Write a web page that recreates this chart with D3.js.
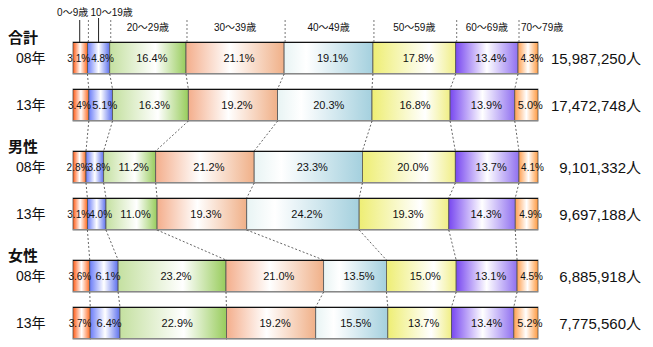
<!DOCTYPE html>
<html><head><meta charset="utf-8">
<script src="https://cdn.jsdelivr.net/npm/d3@7"></script>
<style>
html,body{margin:0;padding:0;background:#fff;}
svg text{font-family:"Liberation Sans","Noto Sans CJK JP",sans-serif;}
</style>
</head><body>
<svg id="c" width="653" height="347"></svg>
<script>
const ageGroups = ["0～9歳","10～19歳","20～29歳","30～39歳","40～49歳","50～59歳","60～69歳","70～79歳"];
const groups = ["合計","男性","女性"];
const years = ["08年","13年"];
const total08 = [3.1,4.8,16.4,21.1,19.1,17.8,13.4,4.3];
const total13 = [3.4,5.1,16.3,19.2,20.3,16.8,13.9,5.0];
const male08 = [2.8,3.8,11.2,21.2,23.3,20.0,13.7,4.1];
const male13 = [3.1,4.0,11.0,19.3,24.2,19.3,14.3,4.9];
const female08 = [3.6,6.1,23.2,21.0,13.5,15.0,13.1,4.5];
const female13 = [3.7,6.4,22.9,19.2,15.5,13.7,13.4,5.2];
const populations = ["15,987,250人","17,472,748人","9,101,332人","9,697,188人","6,885,918人","7,775,560人"];

const rows = [
  {g:0,y:0,vals:total08},{g:0,y:1,vals:total13},
  {g:1,y:0,vals:male08},{g:1,y:1,vals:male13},
  {g:2,y:0,vals:female08},{g:2,y:1,vals:female13}
];
rows.forEach((r,i)=>r.pop=populations[i]);

const svg = d3.select("#c");
const X0 = 73, X1 = 538, BH = 32;
const rowTop = r => 42 + r.g*109 + r.y*47;

// gradients
const colors = [
  {l:"#ff5a14", r:"#ff6a20", w:0.5},
  {l:"#6a7cf8", r:"#5c70ee", w:0.5},
  {l:"#c4e0a0", r:"#98cc5c", w:0.6},
  {l:"#f4ae8c", r:"#f0b088", w:0.45},
  {l:"#e8f4f4", r:"#a4d0de", w:0.25},
  {l:"#eeee74", r:"#f0ee84", w:0.68},
  {l:"#7848f0", r:"#9070f0", w:0.5},
  {l:"#ffa050", r:"#ff9a40", w:0.5}
];
const defs = svg.append("defs");
colors.forEach((c,i)=>{
  const g = defs.append("linearGradient").attr("id","g"+i).attr("x1","0").attr("x2","1").attr("y1","0").attr("y2","0");
  g.append("stop").attr("offset",0).attr("stop-color",c.l);
  g.append("stop").attr("offset",c.w).attr("stop-color","#fff");
  g.append("stop").attr("offset",1).attr("stop-color",c.r);
});

rows.forEach(r=>{
  r.x = d3.scaleLinear().domain([0, d3.sum(r.vals)]).range([X0, X1]);
  let cum = 0;
  r.segs = r.vals.map((v,i)=>{const s={i,v,a:cum,b:cum+v}; cum+=v; return s;});
});

// connectors
for (let k=0;k<rows.length-1;k++){
  const a = rows[k], b = rows[k+1];
  a.segs.slice(0,-1).forEach((s,i)=>{
    svg.append("line")
      .attr("x1", a.x(s.b)).attr("y1", rowTop(a)+BH)
      .attr("x2", b.x(b.segs[i].b)).attr("y2", rowTop(b))
      .attr("stroke","#666").attr("stroke-width",1).attr("stroke-dasharray","2,2");
  });
}

// bars
rows.forEach(r=>{
  const gy = rowTop(r);
  const g = svg.append("g");
  g.selectAll("rect").data(r.segs).join("rect")
    .attr("x", d=>r.x(d.a)).attr("y", gy)
    .attr("width", d=>r.x(d.b)-r.x(d.a)).attr("height", BH)
    .attr("fill", d=>`url(#g${d.i})`)
    .attr("stroke","#555").attr("stroke-width",0.8);
  g.append("line").attr("x1",X0).attr("x2",X1).attr("y1",gy+0.5).attr("y2",gy+0.5).attr("stroke","#111").attr("stroke-width",1.2);
  g.append("line").attr("x1",X0).attr("x2",X1).attr("y1",gy+BH-0.5).attr("y2",gy+BH-0.5).attr("stroke","#888").attr("stroke-width",1);
  g.selectAll("text").data(r.segs).join("text")
    .attr("x", d=>(r.x(d.a)+r.x(d.b))/2 + (d.i===0?-1.5:4))
    .attr("y", gy+BH/2+4)
    .attr("text-anchor","middle")
    .attr("font-size", d=>d.v<5 ? "10px" : "11px").attr("fill","#111")
    .text(d=>d.v.toFixed(1)+"%");
  svg.append("text").attr("x",641).attr("y",gy+BH/2+6)
    .attr("text-anchor","end").attr("font-size","15px").attr("fill","#111")
    .text(r.pop);
  svg.append("text").attr("x",16).attr("y",gy+BH/2+5)
    .attr("font-size","14px").attr("fill","#111").text(years[r.y]);
  if (r.y===0){
    svg.append("text").attr("x",8).attr("y",gy+1)
      .attr("font-size","15px").attr("font-weight","bold").attr("fill","#111").text(groups[r.g]);
  }
});

// header
const firstRow = rows[0];
firstRow.segs.forEach((s,i)=>{
  const mid = (firstRow.x(s.a)+firstRow.x(s.b))/2;
  if (i>0){
    svg.append("line").attr("x1",firstRow.x(s.a)+1).attr("x2",firstRow.x(s.a)+1).attr("y1",20).attr("y2",42)
      .attr("stroke","#777").attr("stroke-width",1).attr("stroke-dasharray","2,2");
  }
  if (i===0){
    svg.append("line").attr("x1",mid-0.5).attr("x2",mid-0.5).attr("y1",20).attr("y2",42).attr("stroke","#222");
    svg.append("text").attr("x",mid+8).attr("y",16).attr("text-anchor","end").attr("font-size","10px").attr("fill","#111").text(ageGroups[i]);
  } else if (i===1){
    svg.append("line").attr("x1",mid).attr("x2",mid).attr("y1",18).attr("y2",42).attr("stroke","#222");
    svg.append("text").attr("x",mid-8).attr("y",16).attr("text-anchor","start").attr("font-size","10px").attr("fill","#111").text(ageGroups[i]);
  } else if (i===7){
    svg.append("text").attr("x",firstRow.x(s.a)+3).attr("y",31).attr("text-anchor","start").attr("font-size","10px").attr("fill","#111").text(ageGroups[i]);
  } else {
    svg.append("text").attr("x",mid).attr("y",31).attr("text-anchor","middle").attr("font-size","10px").attr("fill","#111").text(ageGroups[i]);
  }
});
</script>
</body></html>
